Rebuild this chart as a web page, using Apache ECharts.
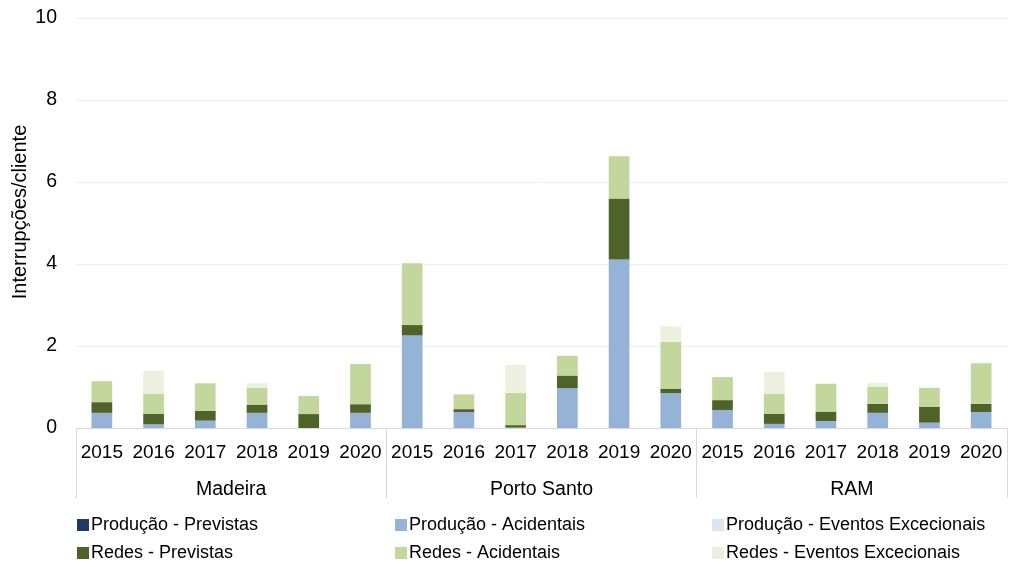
<!DOCTYPE html>
<html>
<head>
<meta charset="utf-8">
<script src="https://cdn.jsdelivr.net/npm/echarts@6/dist/echarts.min.js"></script>
<style>
  html, body { margin: 0; padding: 0; background: #fff; }
  #chart { width: 1011px; height: 567px; }
</style>
</head>
<body>
<div id="chart"></div>
<script>
// Interruptions per client, by region and year (stacked by cause)
const years = ['2015', '2016', '2017', '2018', '2019', '2020'];
const regions = ['Madeira', 'Porto Santo', 'RAM'];
const yTicks = [0, 2, 4, 6, 8, 10];
const yTitle = 'Interrupções/cliente';

// 18 values each: Madeira 2015-2020, Porto Santo 2015-2020, RAM 2015-2020
const producaoPrevistas = [0, 0, 0, 0, 0, 0,  0, 0, 0, 0, 0, 0,  0, 0, 0, 0, 0, 0];
const producaoAcidentais = [0.37, 0.09, 0.18, 0.37, 0.00, 0.37,  2.26, 0.39, 0.01, 0.97, 4.11, 0.85,  0.44, 0.10, 0.17, 0.37, 0.13, 0.39];
const producaoExcecionais = [0, 0, 0, 0, 0, 0,  0, 0, 0, 0, 0, 0,  0, 0, 0, 0, 0, 0];
const redesPrevistas = [0.26, 0.26, 0.24, 0.20, 0.34, 0.21,  0.25, 0.07, 0.06, 0.31, 1.49, 0.11,  0.24, 0.25, 0.23, 0.22, 0.39, 0.20];
const redesAcidentais = [0.51, 0.49, 0.67, 0.41, 0.44, 0.98,  1.51, 0.36, 0.79, 0.48, 1.03, 1.14,  0.56, 0.49, 0.68, 0.41, 0.46, 0.99];
const redesExcecionais = [0, 0.55, 0, 0.11, 0, 0,  0, 0, 0.68, 0, 0, 0.38,  0, 0.53, 0, 0.10, 0, 0];

const seriesNames = [
  'Produção - Previstas', 'Produção - Acidentais', 'Produção - Eventos Excecionais',
  'Redes - Previstas', 'Redes - Acidentais', 'Redes - Eventos Excecionais'
];
const seriesData = [producaoPrevistas, producaoAcidentais, producaoExcecionais,
  redesPrevistas, redesAcidentais, redesExcecionais];
const seriesColors = ['#1f3864', '#95b3d7', '#dce6f2', '#4f6228', '#c3d69b', '#ebf1de'];

const categories = [];
regions.forEach(() => years.forEach(y => categories.push(y)));

const FONT = 'Liberation Sans, Arial, sans-serif';
const TXT = '#000000';

// Legend laid out as a 3-column, 2-row table
const legendCols = [77, 395, 712];
const legendRows = [516, 544];
const legends = seriesNames.map((name, i) => ({
  orient: 'horizontal',
  left: legendCols[i % 3],
  top: legendRows[Math.floor(i / 3)],
  padding: 0,
  itemWidth: 12,
  itemHeight: 12,
  icon: 'rect',
  data: [name],
  textStyle: { fontFamily: FONT, fontSize: 18, color: TXT, padding: [0, 0, 0, -3] },
  selectedMode: false
}));

const chart = echarts.init(document.getElementById('chart'), null, { renderer: 'canvas' });
chart.setOption({
  animation: false,
  backgroundColor: '#ffffff',
  grid: { left: 76, right: 4, top: 18, bottom: 139, containLabel: false, outerBoundsMode: 'none' },
  legend: legends,
  // Vertical y-axis title
  graphic: [{
    type: 'text',
    x: 20,
    y: 212,
    rotation: Math.PI / 2,
    silent: true,
    style: {
      text: yTitle,
      fill: TXT,
      font: '20px ' + FONT,
      align: 'center',
      verticalAlign: 'middle'
    }
  }],
  xAxis: [
    {
      type: 'category',
      data: categories,
      axisLine: { show: true, lineStyle: { color: '#d9d9d9', width: 1 } },
      axisTick: { show: false },
      axisLabel: { interval: 0, margin: 15, fontFamily: FONT, fontSize: 19, color: TXT }
    },
    {
      type: 'category',
      data: regions,
      position: 'bottom',
      axisLine: { show: false },
      axisTick: { show: true, length: 70, lineStyle: { color: '#d9d9d9', width: 1 } },
      axisLabel: { interval: 0, margin: 52, fontFamily: FONT, fontSize: 19.5, color: TXT }
    }
  ],
  yAxis: {
    type: 'value',
    min: yTicks[0],
    max: yTicks[yTicks.length - 1],
    interval: 2,
    axisLine: { show: false },
    axisTick: { show: false },
    axisLabel: { margin: 19, fontFamily: FONT, fontSize: 19.5, color: TXT },
    splitLine: { lineStyle: { color: '#eeeeee', width: 1 } }
  },
  series: seriesNames.map((name, i) => ({
    name: name,
    type: 'bar',
    stack: 'total',
    xAxisIndex: 0,
    barWidth: '40%',
    data: seriesData[i],
    itemStyle: { color: seriesColors[i] },
    emphasis: { disabled: true }
  }))
});
</script>
</body>
</html>
